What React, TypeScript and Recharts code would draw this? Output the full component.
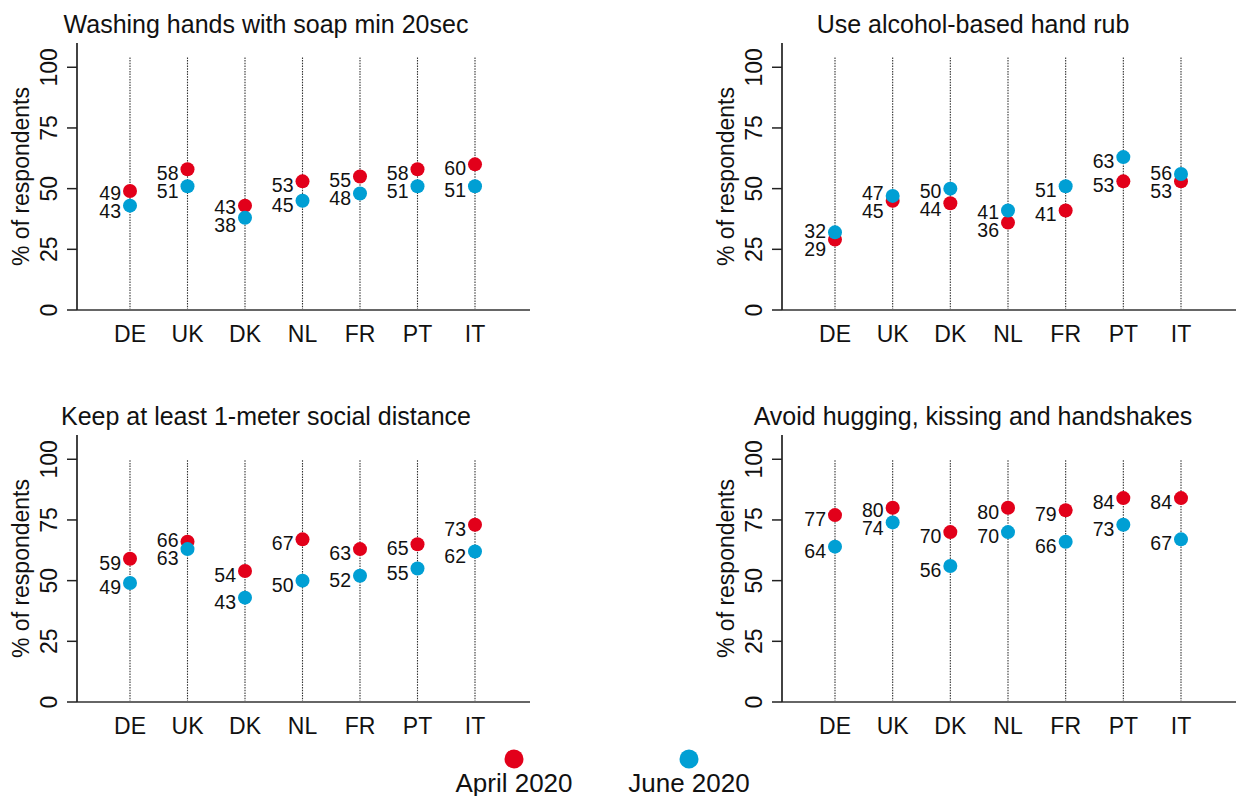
import { ComposedChart, Line, XAxis, YAxis, ReferenceLine } from 'recharts'

const COUNTRIES = ['DE', 'UK', 'DK', 'NL', 'FR', 'PT', 'IT']

const WASH_APRIL = [49, 58, 43, 53, 55, 58, 60]
const WASH_JUNE = [43, 51, 38, 45, 48, 51, 51]
const RUB_APRIL = [29, 45, 44, 36, 41, 53, 53]
const RUB_JUNE = [32, 47, 50, 41, 51, 63, 56]
const DIST_APRIL = [59, 66, 54, 67, 63, 65, 73]
const DIST_JUNE = [49, 63, 43, 50, 52, 55, 62]
const HUG_APRIL = [77, 80, 70, 80, 79, 84, 84]
const HUG_JUNE = [64, 74, 56, 70, 66, 73, 67]

const Y_TICKS = [0, 25, 50, 75, 100]

const RED = '#e2001a'
const BLUE = '#009fd4'
const FONT = '"Liberation Sans", Arial, sans-serif'
const TEXT = '#111'

const SERIES = [
  { key: 'april', name: 'April 2020', color: RED },
  { key: 'june', name: 'June 2020', color: BLUE },
]

const PANELS = [
  { title: 'Washing hands with soap min 20sec', april: WASH_APRIL, june: WASH_JUNE },
  { title: 'Use alcohol-based hand rub', april: RUB_APRIL, june: RUB_JUNE },
  { title: 'Keep at least 1-meter social distance', april: DIST_APRIL, june: DIST_JUNE },
  { title: 'Avoid hugging, kissing and handshakes', april: HUG_APRIL, june: HUG_JUNE },
]

// layout of the four panels on the page
const LAYOUT = [
  { left: 0, top: 0, width: 530, gridTop: 104.5, titleX: 266, titleY: 33 },
  { left: 705, top: 0, width: 531, gridTop: 104.5, titleX: 973, titleY: 33 },
  { left: 0, top: 392, width: 530, gridTop: 100, titleX: 266, titleY: 425 },
  { left: 705, top: 392, width: 531, gridTop: 100, titleX: 973, titleY: 425 },
]

const CHART_H = 350
const MARGIN_TOP = 43
const X_AXIS_H = 40
const Y_AXIS_W = 77
const Y_MAX = 110
const PLOT_H = CHART_H - MARGIN_TOP - X_AXIS_H
const PX_PER_UNIT = PLOT_H / Y_MAX

function YTick({ x, y, payload }: any) {
  return (
    <text
      x={x}
      y={y}
      transform={`rotate(-90, ${x}, ${y})`}
      textAnchor="middle"
      fontSize={23}
      fill={TEXT}
      fontFamily={FONT}
    >
      {payload.value}
    </text>
  )
}

function YTitle({ viewBox }: any) {
  if (!viewBox) return null
  const x = viewBox.x + viewBox.width - 48.5
  const y = viewBox.y + viewBox.height / 2
  return (
    <text
      x={x}
      y={y}
      transform={`rotate(-90, ${x}, ${y})`}
      textAnchor="middle"
      fontSize={23}
      fill={TEXT}
      fontFamily={FONT}
    >
      % of respondents
    </text>
  )
}

function makeDot(key: string, otherKey: string, color: string) {
  return (props: any) => {
    const { cx, cy, payload, index } = props
    if (cx == null || cy == null) return <g key={`${key}-${index}`} />
    const v = payload[key]
    const o = payload[otherKey]
    const otherCy = cy + (v - o) * PX_PER_UNIT
    let c = cy + 4
    const oc = otherCy + 4
    // push the two value labels apart when the points sit close together
    if (Math.abs(c - oc) < 18) {
      const mid = (c + oc) / 2
      c = c < oc || (c === oc && key === 'june') ? mid - 9 : mid + 9
    }
    return (
      <g key={`${key}-${index}`}>
        <circle cx={cx} cy={cy} r={7} fill={color} />
        <text x={cx - 9} y={c + 7} textAnchor="end" fontSize={19.5} fill={TEXT} fontFamily={FONT}>
          {v}
        </text>
      </g>
    )
  }
}

function Panel({ panel, layout }: { panel: (typeof PANELS)[number]; layout: (typeof LAYOUT)[number] }) {
  const data = COUNTRIES.map((c, i) => ({ country: c, april: panel.april[i], june: panel.june[i] }))
  return (
    <div style={{ position: 'absolute', left: layout.left, top: layout.top }}>
      <ComposedChart
        width={layout.width}
        height={CHART_H}
        data={data}
        margin={{ top: MARGIN_TOP, right: 0, bottom: 0, left: 0 }}
      >
        <XAxis
          dataKey="country"
          type="category"
          scale="point"
          padding={{ left: 53, right: 55 }}
          height={X_AXIS_H}
          tickLine={false}
          tickSize={0}
          tickMargin={16}
          axisLine={{ stroke: '#666', strokeWidth: 2 }}
          tick={{ fontSize: 23, fill: TEXT, fontFamily: FONT }}
          interval={0}
        />
        <YAxis
          type="number"
          domain={[0, Y_MAX]}
          ticks={Y_TICKS}
          width={Y_AXIS_W}
          tickSize={10}
          tickMargin={10}
          axisLine={{ stroke: '#222', strokeWidth: 1.7 }}
          tickLine={{ stroke: '#222', strokeWidth: 1.5 }}
          tick={<YTick />}
          allowDataOverflow
          label={<YTitle />}
        />
        {COUNTRIES.map((c) => (
          <ReferenceLine
            key={c}
            segment={[
              { x: c, y: 0 },
              { x: c, y: layout.gridTop },
            ]}
            stroke="#333"
            strokeWidth={1.1}
            strokeDasharray="1.5 1.2"
          />
        ))}
        {SERIES.map((s, i) => (
          <Line
            key={s.key}
            dataKey={s.key}
            name={s.name}
            stroke="none"
            strokeWidth={0}
            dot={makeDot(s.key, SERIES[1 - i].key, s.color)}
            activeDot={false}
            isAnimationActive={false}
          />
        ))}
      </ComposedChart>
    </div>
  )
}

export default function App() {
  return (
    <div
      style={{
        position: 'absolute',
        left: 0,
        top: 0,
        width: 1236,
        height: 796,
        background: '#fff',
        overflow: 'hidden',
        fontFamily: FONT,
      }}
    >
      {PANELS.map((p, i) => (
        <Panel key={p.title} panel={p} layout={LAYOUT[i]} />
      ))}
      <svg
        width={1236}
        height={796}
        style={{ position: 'absolute', left: 0, top: 0, pointerEvents: 'none' }}
      >
        {PANELS.map((p, i) => (
          <text
            key={p.title}
            x={LAYOUT[i].titleX}
            y={LAYOUT[i].titleY}
            textAnchor="middle"
            fontSize={25}
            fill={TEXT}
            fontFamily={FONT}
          >
            {p.title}
          </text>
        ))}
        {SERIES.map((s, i) => (
          <g key={s.key}>
            <circle cx={514 + i * 175} cy={759} r={9.5} fill={s.color} />
            <text x={514 + i * 175} y={792} textAnchor="middle" fontSize={26} fill={TEXT} fontFamily={FONT}>
              {s.name}
            </text>
          </g>
        ))}
      </svg>
    </div>
  )
}
